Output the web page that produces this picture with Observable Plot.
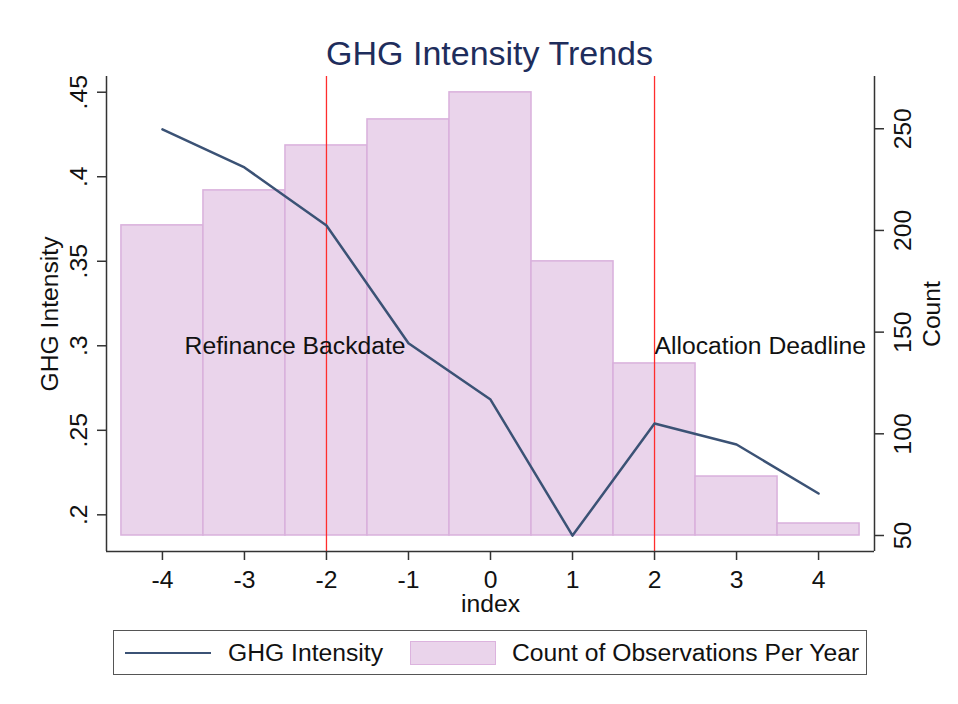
<!DOCTYPE html>
<html>
<head>
<meta charset="utf-8">
<script src="https://cdn.jsdelivr.net/npm/d3@7"></script>
<script src="https://cdn.jsdelivr.net/npm/@observablehq/plot@0.6"></script>
<style>
  body { margin: 0; background: #fff; font-family: "Liberation Sans", Arial, sans-serif; }
  #wrap { position: relative; width: 958px; height: 704px; overflow: hidden; background: #fff; }
  #title { position: absolute; z-index: 2; left: 105px; width: 769px; top: 36px; text-align: center;
           font-size: 34px; line-height: 34px; color: #1e2d5c; }
  #chart { position: absolute; z-index: 1; left: 0; top: 60px; }
  #legend { position: absolute; z-index: 2; left: 113px; top: 630px; width: 752px; height: 43px;
            border: 1.5px solid #555; box-sizing: content-box; font-size: 24.7px; color: #111; }
  #legend .item { position: absolute; top: 0; height: 43px; line-height: 43px; white-space: nowrap; }
  #legend .sw { position: absolute; top: 10px; width: 86px; height: 24px; background: #ead4eb;
                border: 1.5px solid #dcb3de; box-sizing: border-box; }
  #legend .ln { position: absolute; top: 21px; width: 86px; height: 0; border-top: 2.5px solid #3b5275; }
</style>
</head>
<body>
<div id="wrap">
  <div id="title">GHG Intensity Trends</div>
  <div id="chart"></div>
  <div id="legend"></div>
</div>
<script>
// ---- data ----
const years = [-4, -3, -2, -1, 0, 1, 2, 3, 4];
const ghgIntensity = [0.428, 0.4055, 0.3712, 0.3015, 0.2682, 0.1877, 0.254, 0.2416, 0.2126];
const obsCount = [202.5, 219.7, 241.8, 254.6, 267.9, 184.8, 134.6, 79, 55.9];
const xTicks = [-4, -3, -2, -1, 0, 1, 2, 3, 4];
const leftTicks = [0.2, 0.25, 0.3, 0.35, 0.4, 0.45];
const rightTicks = [50, 100, 150, 200, 250];
const eventYears = [-2, 2];
const annotations = [
  {x: -3.73, y: 0.3, label: "Refinance Backdate"},
  {x: 2.0, y: 0.3, label: "Allocation Deadline"}
];
const legendLabels = ["GHG Intensity", "Count of Observations Per Year"];
const barBase = 50;

// ---- scales ----
const xDomain = [-4.682, 4.682];
const yDomain = [0.1783, 0.4593];      // left axis (GHG Intensity)
const countDomain = [42.13, 275.7];    // right axis (Count), same pixel range
const k = (yDomain[1] - yDomain[0]) / (countDomain[1] - countDomain[0]);
const countToY = c => yDomain[0] + (c - countDomain[0]) * k;
const yToCount = v => countDomain[0] + (v - yDomain[0]) / k;

const lineData = years.map((y, i) => ({year: y, ghg: ghgIntensity[i]}));
const barData = years.map((y, i) => ({year: y, count: obsCount[i]}));

const font = "Liberation Sans, Arial, sans-serif";
const axisColor = "#333";
const fs = 24.7;

const chart = Plot.plot({
  width: 958,
  height: 565,
  marginTop: 16,
  marginBottom: 74,
  marginLeft: 106,
  marginRight: 84,
  x: {domain: xDomain},
  y: {domain: yDomain},
  style: {fontFamily: font, fontSize: fs + "px", color: "#111", background: "transparent", overflow: "visible"},
  marks: [
    Plot.rect(barData, {
      x1: d => d.year - 0.5, x2: d => d.year + 0.5,
      y1: () => countToY(barBase), y2: d => countToY(d.count),
      fill: "#ead4eb", stroke: "#d9b0dc", strokeWidth: 1.5
    }),
    Plot.ruleX(eventYears, {stroke: "#ff2d2d", strokeWidth: 1.3}),
    Plot.line(lineData, {x: "year", y: "ghg", stroke: "#3b5275", strokeWidth: 2.5}),
    Plot.text(annotations, {x: "x", y: "y", text: "label", textAnchor: "start", lineAnchor: "middle",
      fontSize: fs, fill: "#111"}),
    // axis lines
    Plot.ruleX([xDomain[0], xDomain[1]], {stroke: axisColor, strokeWidth: 1.5}),
    Plot.ruleY([yDomain[0]], {stroke: axisColor, strokeWidth: 1.5}),
    // axes
    Plot.axisX(xTicks, {anchor: "bottom", tickSize: 9, tickPadding: 10, stroke: axisColor, strokeWidth: 1.5,
      fill: "#111", fontSize: fs, tickFormat: d => String(d), label: null}),
    Plot.axisY(leftTicks, {anchor: "left", tickSize: 9, tickPadding: 11, tickRotate: -90,
      textAnchor: "middle", lineAnchor: "bottom", stroke: axisColor, strokeWidth: 1.5,
      fill: "#111", fontSize: fs, tickFormat: d => String(d).replace(/^0/, ""), label: null}),
    Plot.axisY(rightTicks.map(countToY), {anchor: "right", tickSize: 9, tickPadding: 10, tickRotate: -90,
      textAnchor: "middle", lineAnchor: "top", stroke: axisColor, strokeWidth: 1.5,
      fill: "#111", fontSize: fs, tickFormat: v => String(Math.round(yToCount(v))), label: null}),
    // axis titles
    Plot.text(["GHG Intensity"], {frameAnchor: "left", dx: -56, rotate: -90, text: d => d,
      textAnchor: "middle", lineAnchor: "middle", fontSize: fs, fill: "#111"}),
    Plot.text(["Count"], {frameAnchor: "right", dx: 58, rotate: -90, text: d => d,
      textAnchor: "middle", lineAnchor: "middle", fontSize: fs, fill: "#111"}),
    Plot.text(["index"], {frameAnchor: "bottom", dy: 53, text: d => d,
      textAnchor: "middle", lineAnchor: "middle", fontSize: fs, fill: "#111"})
  ]
});
document.getElementById("chart").appendChild(chart);

// ---- legend ----
const lg = document.getElementById("legend");
lg.innerHTML =
  `<div class="ln" style="left:11px"></div>` +
  `<div class="item" style="left:114px">${legendLabels[0]}</div>` +
  `<div class="sw" style="left:296px"></div>` +
  `<div class="item" style="left:398px">${legendLabels[1]}</div>`;
</script>
</body>
</html>
